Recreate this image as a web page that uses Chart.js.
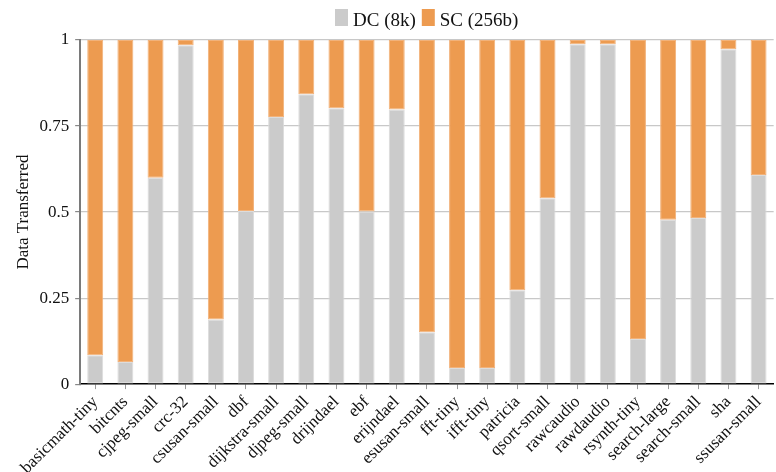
<!DOCTYPE html>
<html>
<head>
<meta charset="utf-8">
<script src="https://cdn.jsdelivr.net/npm/chart.js@4/dist/chart.umd.min.js"></script>
<style>
  html, body { margin: 0; padding: 0; background: #ffffff; }
  #wrap { width: 776px; height: 472px; position: relative; }
</style>
</head>
<body>
<div id="wrap"><canvas id="chart" width="776" height="472"></canvas></div>
<script>
// Benchmarks (MiBench) and the fraction of data moved by each transfer mode
const benchmarks = [
  'basicmath-tiny', 'bitcnts', 'cjpeg-small', 'crc-32', 'csusan-small', 'dbf',
  'dijkstra-small', 'djpeg-small', 'drijndael', 'ebf', 'erijndael', 'esusan-small',
  'fft-tiny', 'ifft-tiny', 'patricia', 'qsort-small', 'rawcaudio', 'rawdaudio',
  'rsynth-tiny', 'search-large', 'search-small', 'sha', 'ssusan-small'
];
const dcShare = [
  0.084, 0.064, 0.600, 0.985, 0.188, 0.503,
  0.776, 0.842, 0.802, 0.502, 0.798, 0.151,
  0.047, 0.047, 0.273, 0.540, 0.988, 0.988,
  0.131, 0.478, 0.483, 0.973, 0.608
];
const scShare = [
  0.916, 0.936, 0.400, 0.015, 0.812, 0.497,
  0.224, 0.158, 0.198, 0.498, 0.202, 0.849,
  0.953, 0.953, 0.727, 0.460, 0.012, 0.012,
  0.869, 0.522, 0.517, 0.027, 0.392
];
const yTicks = [0, 0.25, 0.5, 0.75, 1];

const serif = '"Liberation Serif", "DejaVu Serif", serif';

// Compact legend drawn above the plot: box, short gap, label, next entry.
const compactLegend = {
  id: 'compactLegend',
  afterDraw(chart, args, opts) {
    const ctx = chart.ctx;
    ctx.save();
    ctx.font = `${opts.fontSize}px ${serif}`;
    ctx.textBaseline = 'alphabetic';
    ctx.textAlign = 'left';
    let x = opts.x;
    chart.data.datasets.forEach((ds) => {
      ctx.fillStyle = ds.backgroundColor;
      ctx.fillRect(x, opts.boxTop, opts.boxW, opts.boxH);
      x += opts.boxW + opts.textGap;
      ctx.fillStyle = '#111';
      ctx.fillText(ds.label, x, opts.baseline);
      x += ctx.measureText(ds.label).width + opts.itemGap;
    });
    ctx.restore();
  }
};

new Chart(document.getElementById('chart'), {
  type: 'bar',
  plugins: [compactLegend],
  data: {
    labels: benchmarks,
    datasets: [
      {
        label: 'DC (8k)',
        data: dcShare,
        backgroundColor: '#cbcbcb',
        borderColor: '#dcdcdc',
        borderWidth: 1,
        borderSkipped: false
      },
      {
        label: 'SC (256b)',
        data: scShare,
        backgroundColor: '#ed9b50',
        borderColor: '#f2b27a',
        borderWidth: 1,
        borderSkipped: false
      }
    ]
  },
  options: {
    responsive: false,
    animation: false,
    devicePixelRatio: 1,
    layout: { padding: { left: 0, right: 0, top: 40, bottom: -9 } },
    datasets: { bar: { categoryPercentage: 1.0, barPercentage: 0.53 } },
    plugins: {
      legend: { display: false },
      tooltip: { enabled: false },
      compactLegend: {
        x: 335, boxTop: 9, boxW: 13, boxH: 17,
        textGap: 5, itemGap: 6, baseline: 26, fontSize: 19
      }
    },
    scales: {
      x: {
        stacked: true,
        offset: true,
        grid: {
          offset: false,
          drawOnChartArea: false,
          drawTicks: true,
          tickLength: 5,
          color: '#999'
        },
        border: { display: true, color: '#000', width: 1.5 },
        ticks: {
          autoSkip: false,
          maxRotation: 45,
          minRotation: 45,
          padding: 3,
          color: '#111',
          font: { family: serif, size: 17 }
        }
      },
      y: {
        stacked: true,
        min: 0,
        max: 1,
        afterBuildTicks: (axis) => { axis.ticks = yTicks.map(v => ({ value: v })); },
        grid: {
          color: (ctx) => (ctx.tick && ctx.tick.value === 0) ? 'rgba(0,0,0,0)' : '#c8c8c8',
          lineWidth: 1.2,
          tickLength: 5,
          tickColor: '#888'
        },
        border: { display: true, color: '#7a7a7a', width: 2 },
        ticks: {
          padding: 6,
          color: '#111',
          font: { family: serif, size: 17 },
          callback: (v) => String(v)
        },
        title: {
          display: true,
          text: 'Data Transferred',
          color: '#111',
          font: { family: serif, size: 17 },
          padding: { top: 13, bottom: 0 }
        }
      }
    }
  }
});
</script>
</body>
</html>
